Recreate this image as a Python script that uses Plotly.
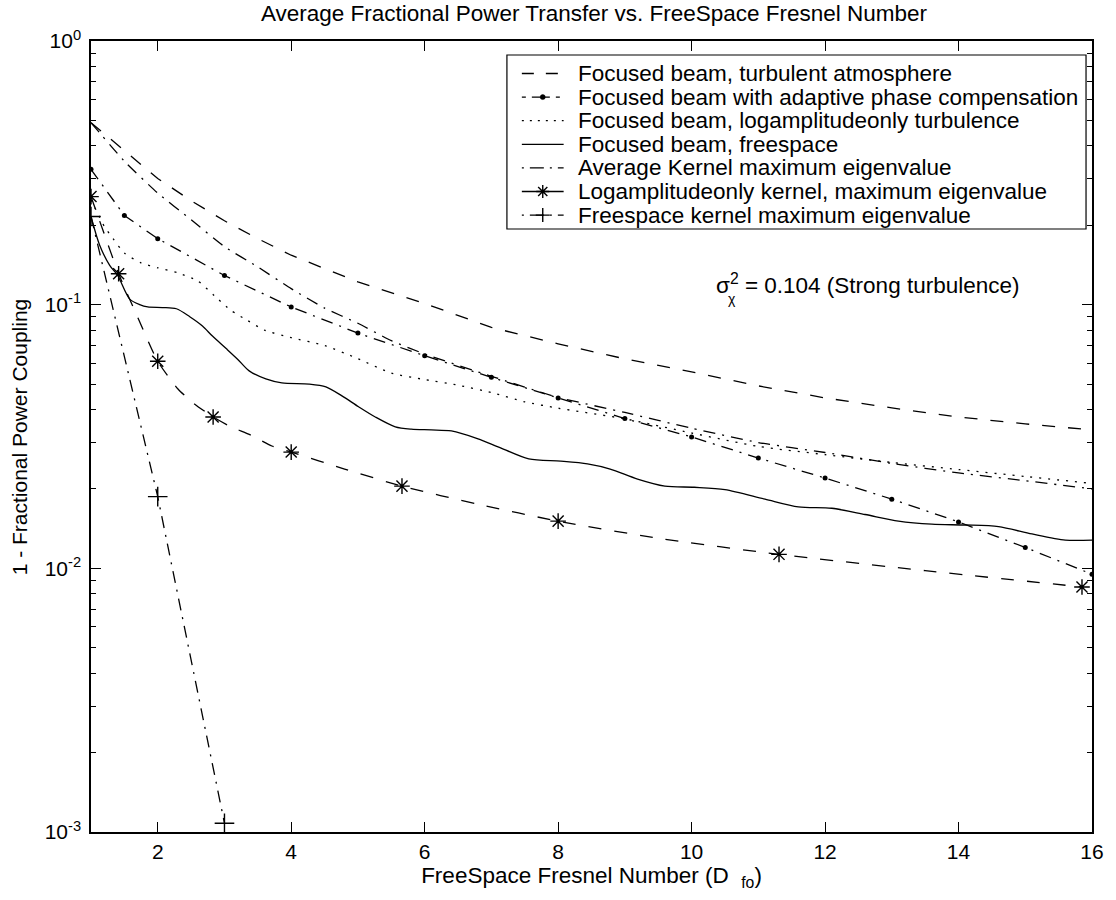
import plotly.graph_objects as go

# ---- data -------------------------------------------------------------
# Focused beam, turbulent atmosphere
x_turb = [1, 1.5, 2, 2.5, 3, 3.5, 4, 5, 6, 7, 8, 9, 10, 11, 12, 13, 14, 15, 16]
y_turb = [0.49, 0.385, 0.301, 0.248, 0.208, 0.178, 0.154, 0.122, 0.101, 0.082,
          0.071, 0.0623, 0.0556, 0.0492, 0.0443, 0.0406, 0.0375, 0.0353, 0.0335]

# Focused beam with adaptive phase compensation
x_adapt = [1, 1.5, 2, 3, 4, 5, 6, 7, 8, 9, 10, 11, 12, 13, 14, 15, 16]
y_adapt = [0.326, 0.218, 0.178, 0.129, 0.098, 0.078, 0.064, 0.053, 0.0443, 0.037,
           0.0315, 0.0262, 0.022, 0.0183, 0.015, 0.012, 0.0095]

# Focused beam, log-amplitude-only turbulence
x_logamp = [1, 1.1, 1.2, 1.33, 1.5, 1.75, 2, 2.3, 2.6, 2.85, 3.1, 3.35, 3.6, 4, 4.5,
            5, 5.5, 6, 6.5, 7, 7.5, 8, 9, 10, 11, 12, 13, 14, 15, 16]
y_logamp = [0.25, 0.222, 0.198, 0.178, 0.157, 0.144, 0.138, 0.132, 0.123, 0.108,
            0.095, 0.087, 0.080, 0.075, 0.070, 0.0624, 0.055, 0.052, 0.0495, 0.0464,
            0.0428, 0.0405, 0.0369, 0.0326, 0.029, 0.027, 0.0252, 0.0237, 0.0223, 0.021]

# Focused beam, free space
x_free = [1, 1.13, 1.28, 1.4, 1.58, 1.73, 1.85, 2.07, 2.28, 2.48, 2.67, 2.82, 3.03,
          3.2, 3.37, 3.62, 3.86, 4.27, 4.52, 4.76, 5.01, 5.26, 5.56, 5.8, 6.1, 6.4,
          6.8, 7.1, 7.56, 8.04, 8.44, 8.78, 9.19, 9.6, 10.04, 10.5, 11.1, 11.6, 12.1,
          12.6, 13.1, 13.6, 14.1, 14.6, 15.1, 15.6, 16]
y_free = [0.216, 0.168, 0.141, 0.129, 0.105, 0.100, 0.098, 0.0975, 0.0965, 0.090,
          0.083, 0.076, 0.068, 0.062, 0.0561, 0.0523, 0.0505, 0.050, 0.0488, 0.0451,
          0.041, 0.0375, 0.0344, 0.0337, 0.0335, 0.0332, 0.031, 0.0289, 0.026, 0.0255,
          0.0249, 0.0238, 0.0218, 0.0205, 0.0203, 0.0199, 0.0183, 0.0171, 0.0169,
          0.016, 0.0151, 0.0147, 0.0146, 0.0144, 0.0135, 0.0128, 0.0128]

# Average kernel, maximum eigenvalue
x_avgk = [1, 1.5, 2, 2.5, 3, 3.5, 4, 4.5, 5, 5.5, 6, 7, 8, 9, 10, 11, 12, 13, 14, 15, 16]
y_avgk = [0.49, 0.35, 0.265, 0.21, 0.166, 0.139, 0.115, 0.097, 0.085, 0.073, 0.065,
          0.0535, 0.0445, 0.039, 0.034, 0.030, 0.0275, 0.025, 0.023, 0.0215, 0.020]

# Log-amplitude-only kernel, maximum eigenvalue (curve and marked samples)
x_lak = [1, 1.2, 1.414, 1.7, 2, 2.3, 2.55, 2.83, 3.07, 3.42, 3.71, 4, 4.8, 5.66,
         6.8, 8, 9.5, 11.31, 13.5, 15.85]
y_lak = [0.257, 0.185, 0.131, 0.0896, 0.061, 0.048, 0.042, 0.0375, 0.0347, 0.0318,
         0.0291, 0.0276, 0.0238, 0.0205, 0.0175, 0.0151, 0.013, 0.0113, 0.0098, 0.0085]
x_lak_mk = [1, 1.414, 2, 2.83, 4, 5.66, 8, 11.31, 15.85]
y_lak_mk = [0.257, 0.131, 0.061, 0.0375, 0.0276, 0.0205, 0.0151, 0.0113, 0.0085]

# Free-space kernel, maximum eigenvalue
x_fsk = [1, 2, 3]
y_fsk = [0.216, 0.0187, 0.00108]

legend_labels = [
    "Focused beam, turbulent atmosphere",
    "Focused beam with adaptive phase compensation",
    "Focused beam, logamplitudeonly turbulence",
    "Focused beam, freespace",
    "Average Kernel maximum eigenvalue",
    "Logamplitudeonly kernel, maximum eigenvalue",
    "Freespace kernel maximum eigenvalue",
]

x_ticks = [2, 4, 6, 8, 10, 12, 14, 16]
y_ticks = [1e-3, 1e-2, 1e-1, 1]
y_tick_text = ["10<sup>-3</sup>", "10<sup>-2</sup>", "10<sup>-1</sup>", "10<sup>0</sup>"]

# ---- styling ----------------------------------------------------------
FONT = "Liberation Sans, Arial, Helvetica, sans-serif"
LW = 1.3
DASH = "13px,13px"
DASHDOT = "12px,7px,2px,7px"
DOT = "2px,7px"
W, H = 1116, 900
L, R, T, B = 91, 1097, 41, 832          # plot area edges in pixels


def px(x):
    return (x - L) / (R - L)


def py(y):
    return (B - y) / (B - T)


fig = go.Figure()

fig.add_trace(go.Scatter(x=x_turb, y=y_turb, mode="lines", name=legend_labels[0],
                         line=dict(color="black", width=LW, dash=DASH)))
fig.add_trace(go.Scatter(x=x_adapt, y=y_adapt, mode="lines+markers", name=legend_labels[1],
                         line=dict(color="black", width=LW, dash=DASHDOT),
                         marker=dict(symbol="circle", size=5, color="black")))
fig.add_trace(go.Scatter(x=x_logamp, y=y_logamp, mode="lines", name=legend_labels[2],
                         line=dict(color="black", width=LW, dash=DOT, shape="spline", smoothing=0.6)))
fig.add_trace(go.Scatter(x=x_free, y=y_free, mode="lines", name=legend_labels[3],
                         line=dict(color="black", width=LW, shape="spline", smoothing=0.8)))
fig.add_trace(go.Scatter(x=x_avgk, y=y_avgk, mode="lines", name=legend_labels[4],
                         line=dict(color="black", width=LW, dash=DASHDOT, shape="spline", smoothing=0.5)))
fig.add_trace(go.Scatter(x=x_lak, y=y_lak, mode="lines", name=legend_labels[5],
                         line=dict(color="black", width=LW, dash=DASH, shape="spline", smoothing=0.6)))
fig.add_trace(go.Scatter(x=x_lak_mk, y=y_lak_mk, mode="markers", name=legend_labels[5],
                         marker=dict(symbol="asterisk-open", size=13, color="black",
                                     line=dict(color="black", width=1.4))))
fig.add_trace(go.Scatter(x=x_fsk, y=y_fsk, mode="lines+markers", name=legend_labels[6],
                         line=dict(color="black", width=LW, dash=DASHDOT),
                         marker=dict(symbol="cross-thin-open", size=14, color="black",
                                     line=dict(color="black", width=1.4))))

minor_y = [k * 10 ** e for e in (-3, -2, -1) for k in range(2, 10)]

common_y = dict(type="log", range=[-3, 0], tickvals=y_ticks,
                ticks="inside", ticklen=10, tickwidth=1.2, tickcolor="black",
                minor=dict(tickvals=minor_y, ticks="inside", ticklen=5,
                           tickcolor="black", tickwidth=1),
                showgrid=False, zeroline=False)

fig.update_layout(
    width=W, height=H,
    paper_bgcolor="white", plot_bgcolor="white",
    margin=dict(l=L, r=W - R, t=T, b=H - B),
    font=dict(family=FONT, size=21, color="black"),
    showlegend=False,
    title=dict(text="Average Fractional Power Transfer vs. FreeSpace Fresnel Number",
               x=(L + R) / 2 / W, xanchor="center", y=1 - 13 / H, yanchor="middle",
               font=dict(size=22.5)),
    xaxis=dict(range=[1, 16], tickvals=x_ticks,
               ticks="inside", ticklen=10, tickwidth=1.2, tickcolor="black",
               showline=True, linecolor="black", linewidth=1.5, mirror="ticks",
               showgrid=False, zeroline=False, tickfont=dict(size=21),
               title=dict(text="FreeSpace Fresnel Number (D\u00a0\u00a0<sub>fo</sub>)",
                          standoff=0, font=dict(size=22.5))),
    yaxis=dict(**common_y, ticktext=y_tick_text,
               showline=True, linecolor="black", linewidth=1.5, mirror="ticks",
               tickfont=dict(size=21), ticklabelstandoff=4),
    yaxis2=dict(**common_y, overlaying="y", side="right", showticklabels=False,
                showline=False),
)

# y-axis title placed at the left page edge
fig.add_annotation(xref="paper", yref="paper", x=px(19), y=py(437),
                   xanchor="center", yanchor="middle", showarrow=False, textangle=-90,
                   text="1 - Fractional Power Coupling", font=dict(size=21))

# ---- legend box --------------------------------------------------------
LEG_L, LEG_R, LEG_T, LEG_B = 509, 1091, 55, 229
ROW0, ROW_STEP = 73.5, 23.6
S0, S1, SM = 524, 566, 545           # sample line ends and marker centre
TEXT_X = 578

fig.add_shape(type="rect", xref="paper", yref="paper",
              x0=px(LEG_L), x1=px(LEG_R), y0=py(LEG_B), y1=py(LEG_T),
              line=dict(color="black", width=1.2), fillcolor="white", layer="above")

sample_dash = ["12px,12px", "4px,6px,18px,6px", "2px,6px", "solid", "2px,6px,14px,6px",
               "solid", "2px,6px,14px,6px"]
for i, label in enumerate(legend_labels):
    yr = ROW0 + ROW_STEP * i
    fig.add_shape(type="line", xref="paper", yref="paper",
                  x0=px(S0), x1=px(S1), y0=py(yr), y1=py(yr),
                  line=dict(color="black", width=LW, dash=sample_dash[i]))
    fig.add_annotation(xref="paper", yref="paper", x=px(TEXT_X), y=py(yr),
                       xanchor="left", yanchor="middle", showarrow=False,
                       text=label, font=dict(size=22.5))

# legend marker samples
r_dot = 2.5
fig.add_shape(type="circle", xref="paper", yref="paper", xsizemode="pixel", ysizemode="pixel",
              xanchor=px(SM), yanchor=py(ROW0 + ROW_STEP), x0=-r_dot, x1=r_dot, y0=-r_dot, y1=r_dot,
              fillcolor="black", line=dict(color="black", width=0.5))
s, d = 6.5, 4.6
fig.add_shape(type="path", xref="paper", yref="paper", xsizemode="pixel", ysizemode="pixel",
              xanchor=px(SM), yanchor=py(ROW0 + ROW_STEP * 5),
              path=f"M{-s},0L{s},0M0,{-s}L0,{s}M{-d},{-d}L{d},{d}M{-d},{d}L{d},{-d}",
              line=dict(color="black", width=1.4))
c = 7
fig.add_shape(type="path", xref="paper", yref="paper", xsizemode="pixel", ysizemode="pixel",
              xanchor=px(SM), yanchor=py(ROW0 + ROW_STEP * 6),
              path=f"M{-c},0L{c},0M0,{-c}L0,{c}",
              line=dict(color="black", width=1.4))

# ---- turbulence strength note ------------------------------------------
fig.add_annotation(xref="paper", yref="paper", x=px(717), y=py(284),
                   xanchor="left", yanchor="middle", showarrow=False,
                   text="σ<sup>2</sup>\u00a0= 0.104 (Strong turbulence)", font=dict(size=22.5))
fig.add_annotation(xref="paper", yref="paper", x=px(729), y=py(299),
                   xanchor="left", yanchor="middle", showarrow=False,
                   text="χ", font=dict(size=14))

fig.write_html("out.html")
